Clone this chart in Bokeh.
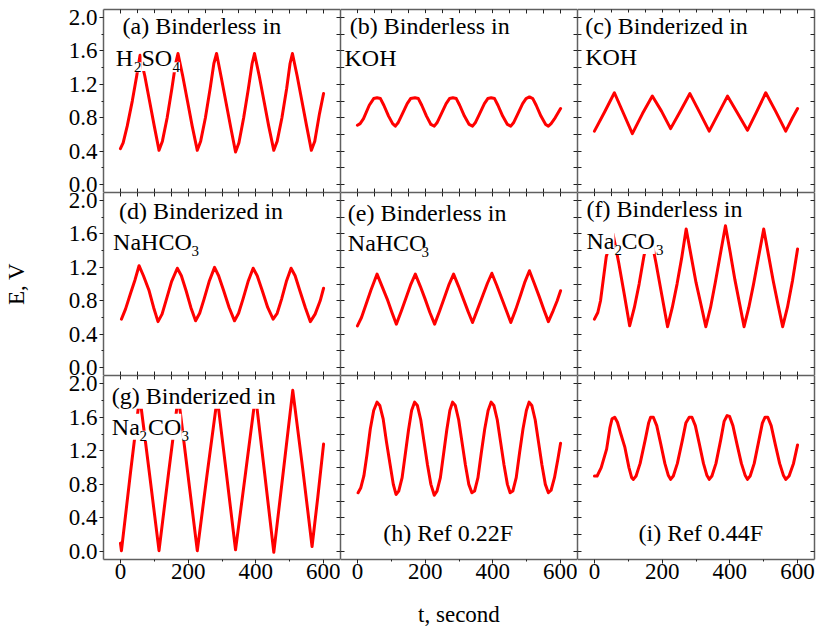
from bokeh.plotting import figure
from bokeh.layouts import gridplot
from bokeh.models import Label, LinearAxis, FixedTicker, Range1d, PrintfTickFormatter
from bokeh.embed import file_html
from bokeh.resources import INLINE

# ---------------- data (t in s, E in V) ----------------
t_a = [0, 8, 20, 35, 48, 58, 72, 86, 100, 114, 124, 138, 152, 163, 170, 184, 198, 212, 227,
       237, 251, 265, 276, 284, 298, 312, 326, 340, 350, 364, 378, 389, 396, 410, 424, 438, 453,
       463, 477, 491, 501, 508, 522, 536, 550, 564, 574, 588, 600]
E_a = [0.43, 0.50, 0.70, 1.00, 1.30, 1.55, 1.30, 1.00, 0.70, 0.41, 0.52, 0.80, 1.15, 1.45, 1.57,
       1.30, 1.00, 0.70, 0.41, 0.52, 0.80, 1.15, 1.45, 1.57, 1.28, 0.98, 0.68, 0.39, 0.50, 0.80,
       1.15, 1.45, 1.57, 1.30, 1.00, 0.70, 0.41, 0.52, 0.80, 1.15, 1.45, 1.57, 1.30, 1.00, 0.70,
       0.41, 0.52, 0.85, 1.09]

t_b = [0, 8, 18, 35, 48, 58, 68, 78, 92, 104, 112, 120, 132, 147, 157, 170, 180, 190, 204, 217,
       227, 235, 247, 262, 272, 282, 292, 302, 316, 330, 340, 348, 360, 375, 385, 395, 405, 415,
       429, 443, 453, 461, 473, 488, 498, 508, 518, 528, 542, 556, 564, 572, 584, 600]
E_b = [0.71, 0.73, 0.79, 0.95, 1.03, 1.04, 1.03, 0.95, 0.82, 0.73, 0.70, 0.74, 0.84, 0.97, 1.03,
       1.04, 1.03, 0.95, 0.82, 0.72, 0.70, 0.74, 0.84, 0.97, 1.03, 1.04, 1.03, 0.95, 0.82, 0.72,
       0.70, 0.74, 0.84, 0.97, 1.03, 1.04, 1.03, 0.95, 0.82, 0.72, 0.70, 0.74, 0.84, 0.97, 1.03,
       1.05, 1.03, 0.95, 0.82, 0.72, 0.70, 0.73, 0.80, 0.91]

t_c = [0, 30, 59, 85, 112, 142, 171, 198, 225, 254, 282, 310, 339, 366, 393, 422, 452, 479, 506,
       535, 565, 585, 600]
E_c = [0.64, 0.87, 1.10, 0.86, 0.61, 0.85, 1.06, 0.88, 0.67, 0.88, 1.09, 0.87, 0.64, 0.85, 1.06,
       0.86, 0.65, 0.87, 1.10, 0.88, 0.64, 0.80, 0.91]

t_d = [3, 15, 30, 43, 55, 68, 84, 98, 111, 123, 136, 151, 168, 180, 194, 208, 222, 234, 247, 262,
       278, 290, 305, 321, 337, 349, 362, 377, 392, 404, 419, 435, 451, 463, 476, 490, 504, 516,
       530, 546, 561, 575, 590, 600]
E_d = [0.58, 0.70, 0.89, 1.05, 1.22, 1.10, 0.93, 0.72, 0.55, 0.64, 0.82, 1.03, 1.19, 1.10, 0.92,
       0.72, 0.56, 0.65, 0.82, 1.03, 1.20, 1.10, 0.92, 0.72, 0.56, 0.65, 0.82, 1.03, 1.19, 1.10,
       0.92, 0.72, 0.58, 0.65, 0.82, 1.03, 1.19, 1.10, 0.92, 0.72, 0.55, 0.64, 0.80, 0.95]

t_e = [0, 12, 24, 40, 58, 73, 88, 102, 115, 130, 145, 158, 171, 186, 200, 214, 228, 243, 258, 271,
       284, 299, 313, 327, 340, 355, 370, 384, 397, 412, 426, 440, 453, 468, 482, 495, 508, 523,
       537, 551, 564, 578, 590, 600]
E_e = [0.50, 0.60, 0.74, 0.93, 1.12, 0.97, 0.82, 0.66, 0.52, 0.68, 0.85, 1.00, 1.12, 0.97, 0.82,
       0.66, 0.52, 0.68, 0.85, 1.00, 1.12, 0.97, 0.82, 0.67, 0.54, 0.70, 0.86, 1.01, 1.13, 0.98,
       0.83, 0.68, 0.54, 0.70, 0.87, 1.03, 1.16, 1.00, 0.85, 0.69, 0.55, 0.68, 0.80, 0.92]

t_f = [0, 10, 18, 35, 55, 72, 88, 104, 118, 132, 146, 163, 182, 199, 216, 230, 244, 258, 271, 285,
       300, 315, 329, 343, 357, 372, 387, 401, 415, 429, 442, 456, 470, 485, 500, 514, 528, 542,
       556, 570, 585, 600]
E_f = [0.58, 0.66, 0.80, 1.33, 1.60, 1.25, 0.88, 0.50, 0.72, 1.00, 1.33, 1.64, 1.25, 0.87, 0.49,
       0.72, 1.00, 1.32, 1.66, 1.35, 1.02, 0.75, 0.49, 0.72, 1.02, 1.36, 1.70, 1.38, 1.05, 0.76,
       0.49, 0.72, 1.00, 1.33, 1.66, 1.35, 1.04, 0.76, 0.49, 0.72, 1.04, 1.42]

t_g = [0, 3, 30, 57, 86, 114, 142, 171, 199, 227, 256, 286, 313, 340, 370, 399, 426, 453, 481, 509,
       538, 566, 583, 600]
E_g = [0.10, 0.01, 0.95, 1.85, 0.92, 0.01, 0.93, 1.85, 0.93, 0.01, 0.92, 1.83, 0.93, 0.02, 0.95,
       1.86, 0.93, -0.01, 0.95, 1.92, 1.00, 0.06, 0.65, 1.28]

t_h = [2, 10, 19, 28, 38, 48, 58, 66, 76, 86, 96, 106, 114,
       122, 132, 142, 151, 160, 169, 177, 187, 197, 207, 217, 227,
       235, 245, 255, 264, 273, 281, 289, 299, 309, 319, 329, 338,
       346, 356, 366, 376, 386, 395, 403, 413, 423, 433, 443, 451,
       459, 469, 479, 489, 499, 507, 515, 525, 535, 545, 555, 564,
       572, 582, 592, 600]
E_h = [0.70, 0.76, 0.90, 1.15, 1.46, 1.68, 1.78, 1.74, 1.58, 1.30, 1.05, 0.80, 0.68,
       0.72, 0.88, 1.18, 1.45, 1.68, 1.78, 1.74, 1.57, 1.30, 1.03, 0.80, 0.67,
       0.72, 0.88, 1.18, 1.45, 1.68, 1.78, 1.74, 1.57, 1.30, 1.03, 0.80, 0.70,
       0.72, 0.88, 1.18, 1.46, 1.68, 1.78, 1.74, 1.57, 1.30, 1.03, 0.80, 0.70,
       0.72, 0.88, 1.18, 1.46, 1.68, 1.78, 1.74, 1.57, 1.30, 1.03, 0.80, 0.70,
       0.73, 0.88, 1.10, 1.29]

t_i = [0, 8, 20, 36, 46, 52, 60, 68, 78, 90, 102, 110, 115,
       123, 135, 150, 160, 166, 174, 184, 196, 208, 218, 225,
       233, 245, 260, 270, 280, 288, 298, 310, 322, 332, 339,
       347, 359, 373, 383, 392, 399, 409, 421, 434, 445, 452,
       460, 472, 486, 496, 504, 512, 522, 534, 547, 558, 565,
       575, 588, 600]
E_i = [0.90, 0.90, 1.00, 1.22, 1.48, 1.58, 1.60, 1.54, 1.40, 1.24, 1.00, 0.88, 0.86,
       0.90, 1.05, 1.33, 1.53, 1.60, 1.60, 1.50, 1.28, 1.05, 0.91, 0.86,
       0.90, 1.05, 1.33, 1.53, 1.60, 1.60, 1.50, 1.28, 1.05, 0.91, 0.86,
       0.90, 1.05, 1.33, 1.55, 1.62, 1.61, 1.50, 1.28, 1.05, 0.91, 0.86,
       0.90, 1.05, 1.33, 1.53, 1.60, 1.60, 1.50, 1.28, 1.05, 0.91, 0.86,
       0.90, 1.05, 1.27]

x_major = [0, 200, 400, 600]
x_minor_outer = [100, 300, 500]
x_ticks_inner = [0, 50, 100, 150, 200, 250, 300, 350, 400, 450, 500, 550, 600]
y_major = [0.0, 0.4, 0.8, 1.2, 1.6, 2.0]
y_minor = [0.2, 0.6, 1.0, 1.4, 1.8]
y_ticks_inner = [0.0, 0.2, 0.4, 0.6, 0.8, 1.0, 1.2, 1.4, 1.6, 1.8, 2.0]

x_label = "t, second"
y_label = "E, V"

# panel captions: (text, left offset px, baseline px below frame top, font px)
captions = [
    [("(a) Binderless in", 19, 16.7, 24), ("H", 12.3, 48.4, 24), ("2", 30.5, 57.7, 15),
     ("SO", 38, 48.4, 24), ("4", 69, 57.7, 15)],
    [("(b) Binderless in", 9.3, 16.7, 24), ("KOH", 4, 48.4, 24)],
    [("(c) Binderized in", 7.7, 16.0, 24), ("KOH", 7.7, 47.0, 24)],
    [("(d) Binderized in", 15.6, 18.7, 24), ("NaHCO", 9.6, 49.7, 24), ("3", 88, 58.7, 15)],
    [("(e) Binderless in", 7.3, 20.0, 24), ("NaHCO", 7.3, 50.0, 24), ("3", 81, 59.4, 15)],
    [("(f) Binderless in", 9, 16.7, 24), ("Na", 9, 48.4, 24), ("2", 37, 57.4, 15),
     ("CO", 44, 48.4, 24), ("3", 78.5, 57.4, 15)],
    [("(g) Binderized in", 8.3, 20.3, 24), ("Na", 8.3, 51.3, 24), ("2", 36, 60.3, 15),
     ("CO", 44.5, 51.3, 24), ("3", 78, 60.3, 15)],
    [("(h) Ref 0.22F", 42.7, 157.5, 24)],
    [("(i) Ref 0.44F", 61, 157.5, 24)],
]

series = [(t_a, E_a), (t_b, E_b), (t_c, E_c), (t_d, E_d), (t_e, E_e), (t_f, E_f),
          (t_g, E_g), (t_h, E_h), (t_i, E_i)]
for tt, ee in series:
    assert len(tt) == len(ee)

FONT = "Liberation Serif"
AXIS_COLOR = "#606060"
TICK_COLOR = "#222222"
FRAME_W = 237
FRAME_H = [183, 183, 184]
LEFT_BORDER = 103
TOP_BORDER = 9
BOTTOM_BORDER = 69


def base_axis(ax):
    ax.axis_line_color = AXIS_COLOR
    ax.axis_line_width = 1.5
    ax.major_tick_line_color = TICK_COLOR
    ax.minor_tick_line_color = TICK_COLOR


def outer_axis(ax, ticks, minor):
    base_axis(ax)
    ax.ticker = FixedTicker(ticks=ticks, minor_ticks=minor)
    ax.major_tick_out = 4
    ax.major_tick_in = 0
    ax.minor_tick_out = 2
    ax.minor_tick_in = 0
    ax.major_label_text_font = FONT
    ax.major_label_text_font_size = "23px"
    ax.major_label_text_color = "black"


def inner_axis(ax, ticks):
    # ticks only, no labels: every tick given as a minor tick of equal length
    base_axis(ax)
    ax.ticker = FixedTicker(ticks=[], minor_ticks=ticks)
    ax.major_tick_out = 0
    ax.major_tick_in = 0
    ax.minor_tick_out = 0
    ax.minor_tick_in = 4
    ax.major_label_standoff = 0


rows = []
for r in range(3):
    row = []
    for c in range(3):
        k = r * 3 + c
        fh = FRAME_H[r]
        p = figure(frame_width=FRAME_W, frame_height=fh,
                   x_range=Range1d(-50, 650), y_range=Range1d(-0.095, 2.097),
                   output_backend="svg", toolbar_location=None,
                   x_axis_location=None, y_axis_location=None,
                   min_border_left=LEFT_BORDER if c == 0 else 0,
                   min_border_right=2 if c == 2 else 0,
                   min_border_top=TOP_BORDER if r == 0 else 0,
                   min_border_bottom=BOTTOM_BORDER if r == 2 else 0)
        p.xgrid.visible = False
        p.ygrid.visible = False
        p.outline_line_color = None
        p.background_fill_color = "white"
        p.border_fill_color = "white"

        left = LinearAxis()
        if c == 0:
            outer_axis(left, y_major, y_minor)
            left.formatter = PrintfTickFormatter(format="%.1f")
            left.major_label_standoff = 2
            if r == 1:
                left.axis_label = y_label
                left.axis_label_text_font = FONT
                left.axis_label_text_font_size = "23px"
                left.axis_label_text_font_style = "normal"
                left.axis_label_text_color = "black"
                left.axis_label_standoff = 37
        else:
            inner_axis(left, y_ticks_inner)
        right = LinearAxis()
        inner_axis(right, y_ticks_inner)
        below = LinearAxis()
        if r == 2:
            outer_axis(below, x_major, x_minor_outer)
            below.major_label_standoff = 0
            if c == 1:
                below.axis_label = x_label
                below.axis_label_text_font = FONT
                below.axis_label_text_font_size = "23px"
                below.axis_label_text_font_style = "normal"
                below.axis_label_text_color = "black"
                below.axis_label_standoff = 20
        else:
            inner_axis(below, x_ticks_inner)
        above = LinearAxis()
        inner_axis(above, x_ticks_inner)
        p.add_layout(left, "left")
        p.add_layout(right, "right")
        p.add_layout(below, "below")
        p.add_layout(above, "above")

        tt, ee = series[k]
        p.line(tt, ee, line_color="#ff0000", line_width=3, line_join="round", line_cap="round")

        for text, dx, base, size in captions[k]:
            p.add_layout(Label(x=dx, y=fh - base, x_units="screen", y_units="screen",
                               text=text, text_font=FONT, text_font_size=f"{size}px",
                               text_color="black", text_align="left",
                               text_baseline="alphabetic",
                               background_fill_color="white"))
        row.append(p)
    rows.append(row)

grid = gridplot(rows, toolbar_location=None)

with open("out.html", "w") as f:
    f.write(file_html(grid, INLINE))
